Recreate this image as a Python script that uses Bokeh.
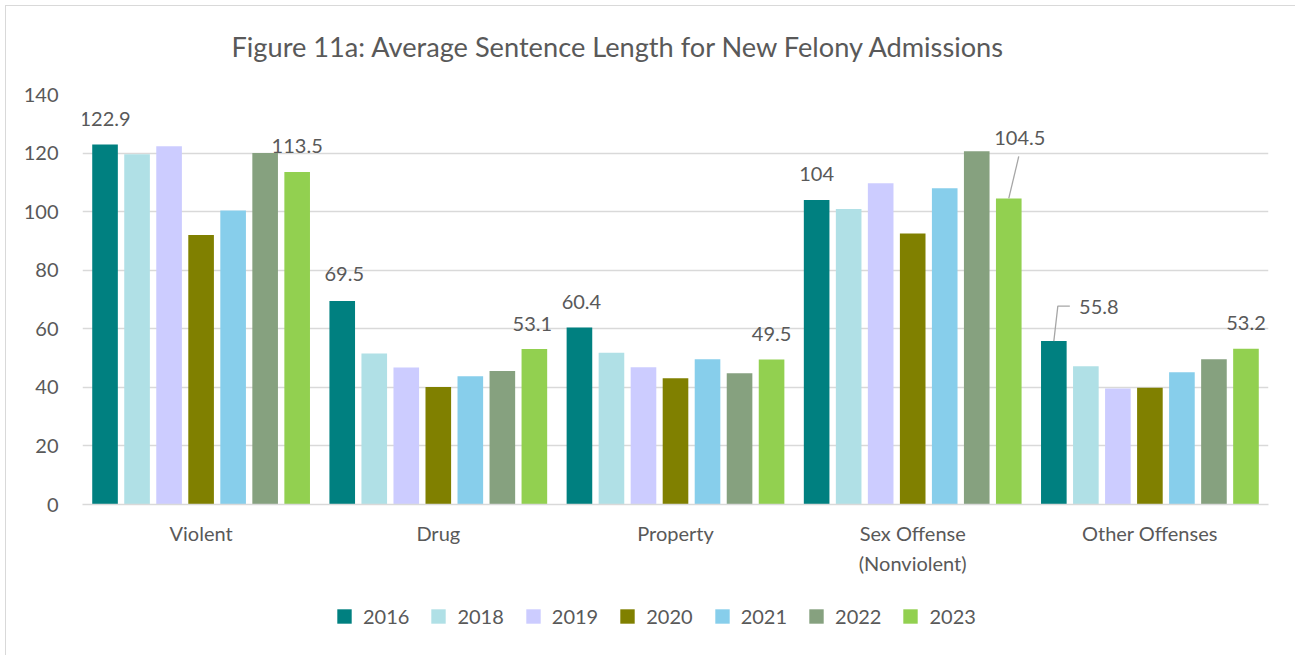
from bokeh.plotting import figure
from bokeh.layouts import column
from bokeh.models import (ColumnDataSource, FactorRange, Range1d, Legend, LegendItem,
                          FixedTicker)
from bokeh.transform import dodge
from bokeh.core.properties import value
from bokeh.embed import file_html
from bokeh.resources import INLINE

# ---------------- data ----------------
categories = ["Violent", "Drug", "Property", "Sex Offense\n(Nonviolent)", "Other Offenses"]
years = ["2016", "2018", "2019", "2020", "2021", "2022", "2023"]
y2016 = [122.9, 69.5, 60.4, 104.0, 55.8]
y2018 = [119.6, 51.6, 51.8, 100.9, 47.2]
y2019 = [122.3, 46.8, 46.9, 109.7, 39.6]
y2020 = [92.0, 40.1, 43.1, 92.5, 39.9]
y2021 = [100.4, 43.8, 49.6, 108.0, 45.2]
y2022 = [120.0, 45.6, 44.8, 120.6, 49.6]
y2023 = [113.5, 53.1, 49.5, 104.5, 53.2]
y_ticks = [0, 20, 40, 60, 80, 100, 120, 140]
labelled_years = ["2016", "2023"]
title_text = "Figure 11a: Average Sentence Length for New Felony Admissions"

series = {"2016": y2016, "2018": y2018, "2019": y2019, "2020": y2020,
          "2021": y2021, "2022": y2022, "2023": y2023}

# ---------------- style ----------------
colors = ["#008080", "#B0E0E6", "#CCCCFF", "#808000", "#87CEEB", "#86A17F", "#92D050"]
FONT = "Lato"
TXT = "#595959"
GRID = "#d9d9d9"

W = 1289
H_TITLE, H_MAIN, H_LEG = 74, 510, 65
BL, BR, BT, BB = 76, 27, 14, 86
FRAME_W = W - BL - BR
FRAME_H = H_MAIN - BT - BB
PITCH = 0.135
BAR_W = 0.108

# data-label pixel offsets (relative to bar top centre)
label_dx = {"2016": [0, 2, 2, 0, 45], "2023": [0, -2, 0, 11, 0]}
label_dy = {"2016": [-26, -27, -26, -26, -34], "2023": [-26, -25, -26, -60, -26]}
# leader lines (pixel offsets from the bar top centre)
leader_cat = ["Sex Offense\n(Nonviolent)", "Other Offenses"]
leader_year = ["2023", "2016"]
leader_px = [[(0, 0), (10, -42)], [(0, 0), (4, -35), (16, -35)]]


def strip(height):
    f = figure(width=W, height=height, x_range=Range1d(0, FRAME_W), y_range=Range1d(0, height),
               output_backend="svg", toolbar_location=None,
               x_axis_location=None, y_axis_location=None, min_border=0,
               background_fill_color="white", border_fill_color="white")
    f.outline_line_color = None
    f.grid.visible = False
    return f


# ---------------- title strip ----------------
tp = strip(H_TITLE)
tp.text(x=[149], y=[H_TITLE - 40], text=[title_text], text_font=value(FONT),
        text_font_size="27.2px", text_color=TXT, text_align="left", text_baseline="middle")

# ---------------- main chart ----------------
src = ColumnDataSource(dict(cat=categories, **series))

p = figure(x_range=FactorRange(factors=categories, range_padding=0),
           y_range=Range1d(0, 140),
           width=W, height=H_MAIN, output_backend="svg", toolbar_location=None,
           min_border_left=BL, min_border_right=BR, min_border_top=BT, min_border_bottom=BB,
           background_fill_color="white", border_fill_color="white")
p.outline_line_color = None

for i, y in enumerate(years):
    p.vbar(x=dodge("cat", (i - 3) * PITCH, range=p.x_range), top=y, width=BAR_W,
           source=src, fill_color=colors[i], line_color=None)

for y in labelled_years:
    i = years.index(y)
    ls = ColumnDataSource(dict(cat=categories, val=series[y],
                               txt=[("%g" % v) for v in series[y]],
                               dx=label_dx[y], dy=label_dy[y]))
    p.text(x=dodge("cat", (i - 3) * PITCH, range=p.x_range), y="val", text="txt",
           x_offset="dx", y_offset="dy", source=ls,
           text_font=value(FONT), text_font_size="20px", text_color=TXT,
           text_align="center", text_baseline="middle")

px_per_cat = FRAME_W / len(categories)
px_per_unit = FRAME_H / 140.0
lxs, lys = [], []
for c, y, pts in zip(leader_cat, leader_year, leader_px):
    ci = categories.index(c)
    xc = ci + 0.5 + (years.index(y) - 3) * PITCH
    top = series[y][ci]
    lxs.append([xc + dx / px_per_cat for dx, dy in pts])
    lys.append([top - dy / px_per_unit for dx, dy in pts])
p.multi_line(xs=lxs, ys=lys, line_color="#a6a6a6", line_width=1.3)

p.yaxis.ticker = FixedTicker(ticks=y_ticks)
p.yaxis.axis_line_color = None
p.yaxis.major_tick_line_color = None
p.yaxis.minor_tick_line_color = None
p.yaxis.major_tick_out = 0
p.yaxis.major_label_standoff = 24
p.xaxis.axis_line_color = GRID
p.xaxis.axis_line_width = 1.3
p.xaxis.major_tick_line_color = None
p.xaxis.major_tick_out = 0
p.xaxis.major_label_standoff = 16
p.xaxis.major_label_text_line_height = 1.25
for ax in (p.xaxis, p.yaxis):
    ax.major_label_text_font = FONT
    ax.major_label_text_font_size = "20px"
    ax.major_label_text_color = TXT
p.xgrid.grid_line_color = None
p.ygrid.grid_line_color = GRID
p.ygrid.grid_line_width = 1.3

# ---------------- legend strip ----------------
lp = strip(H_LEG)
leg_renderers = [lp.vbar(x=[-10], top=[-10], width=0.1, fill_color=c, line_color=None)
                 for c in colors]
items = [LegendItem(label=y, renderers=[r]) for y, r in zip(years, leg_renderers)]
legend = Legend(items=items, orientation="horizontal", location=(253, 27),
                glyph_width=18, glyph_height=18, label_standoff=10, spacing=20,
                padding=0, margin=0, border_line_color=None, background_fill_alpha=0,
                label_text_font=FONT, label_text_font_size="20px", label_text_color=TXT,
                label_height=20)
lp.add_layout(legend, "center")

layout = column(tp, p, lp, spacing=0)
layout.styles = {"margin-left": "5px", "margin-top": "5px",
                 "border-left": "1px solid #d9d9d9", "border-top": "1px solid #d9d9d9"}
open("out.html", "w").write(file_html(layout, INLINE))
